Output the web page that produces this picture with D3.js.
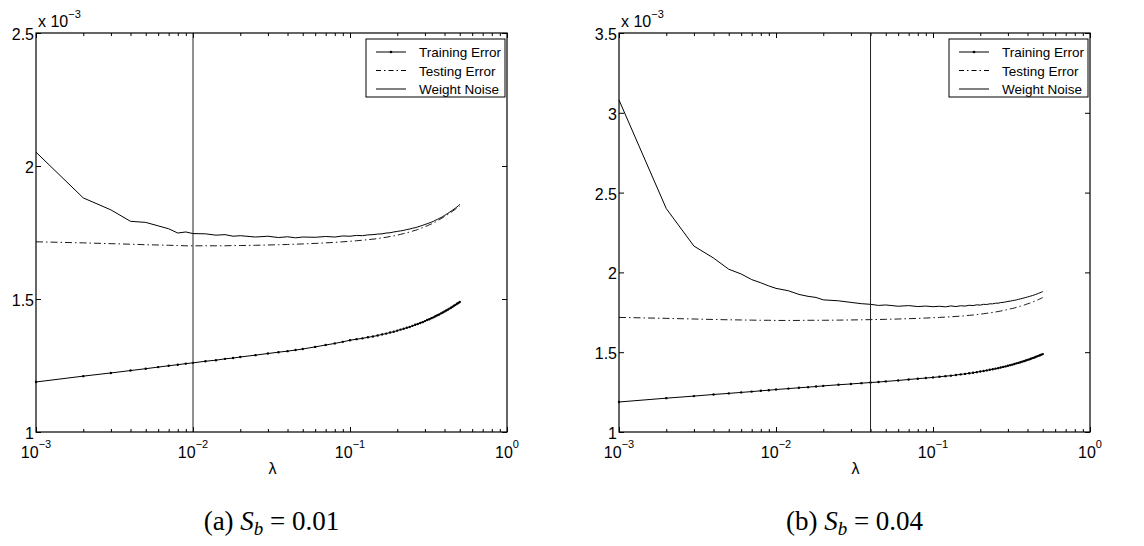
<!DOCTYPE html>
<meta charset="utf-8">
<head>
<style>
  body { margin: 0; background: #fff; }
  text { font-family: "Liberation Sans", Arial, sans-serif; fill: #000; }
  .cap { font-family: "Liberation Serif", "Times New Roman", serif; }
</style>
</head>
<script src="https://d3js.org/d3.v7.min.js"></script>
<body>
<div id="my_dataviz"></div>
</body>
<script>

// lambda values (x)
var lambdas = [0.001,0.002,0.003,0.004,0.005,0.006,0.007,0.008,0.009,0.010,
  0.012,0.014,0.016,0.018,0.020,
  0.025,0.030,0.035,0.040,0.045,0.050,
  0.06,0.07,0.08,0.09,0.10,
  0.11,0.12,0.13,0.14,0.15,0.16,0.17,0.18,0.19,0.20,
  0.21,0.22,0.23,0.24,0.25,0.26,0.27,0.28,0.29,0.30,
  0.31,0.32,0.33,0.34,0.35,0.36,0.37,0.38,0.39,0.40,
  0.41,0.42,0.43,0.44,0.45,0.46,0.47,0.48,0.49,0.50];

// panel (a), S_b = 0.01  (values x 10^-3)
var trainA = [1.188,1.210,1.222,1.231,1.238,1.244,1.249,1.253,1.257,1.260,
  1.266,1.270,1.275,1.278,1.282,
  1.289,1.295,1.300,1.304,1.308,1.312,
  1.320,1.327,1.333,1.339,1.345,
  1.349,1.352,1.356,1.359,1.363,1.367,1.370,1.374,1.377,1.381,
  1.385,1.388,1.392,1.395,1.399,1.403,1.406,1.410,1.413,1.417,
  1.421,1.424,1.428,1.431,1.435,1.439,1.442,1.446,1.449,1.453,
  1.457,1.460,1.464,1.467,1.471,1.475,1.478,1.482,1.485,1.489];
var testA = [1.715,1.711,1.708,1.706,1.704,1.703,1.702,1.701,1.700,1.700,
  1.700,1.700,1.700,1.701,1.701,
  1.702,1.703,1.704,1.705,1.706,1.707,
  1.709,1.711,1.713,1.715,1.717,
  1.719,1.721,1.723,1.725,1.727,1.730,1.732,1.735,1.737,1.740,
  1.743,1.746,1.749,1.752,1.755,1.758,1.761,1.765,1.768,1.772,
  1.775,1.779,1.782,1.786,1.790,1.794,1.798,1.802,1.806,1.810,
  1.814,1.818,1.822,1.826,1.830,1.834,1.838,1.842,1.846,1.850];
var noiseA = [2.052,1.880,1.835,1.792,1.788,1.775,1.764,1.748,1.752,1.746,
  1.745,1.740,1.742,1.736,1.738,
  1.733,1.736,1.731,1.734,1.730,1.733,
  1.732,1.735,1.733,1.737,1.736,
  1.739,1.738,1.741,1.742,1.744,1.745,1.748,1.749,1.752,1.754,
  1.756,1.758,1.761,1.763,1.766,1.768,1.771,1.774,1.777,1.780,
  1.783,1.786,1.789,1.792,1.796,1.799,1.803,1.806,1.810,1.814,
  1.818,1.822,1.826,1.830,1.834,1.838,1.842,1.846,1.851,1.856];

// panel (b), S_b = 0.04
var trainB = [1.188,1.212,1.225,1.235,1.242,1.248,1.253,1.258,1.262,1.266,
  1.272,1.277,1.281,1.285,1.289,
  1.296,1.301,1.306,1.310,1.313,1.317,
  1.323,1.329,1.334,1.338,1.342,
  1.346,1.350,1.353,1.357,1.361,1.364,1.368,1.371,1.375,1.379,
  1.382,1.386,1.390,1.393,1.397,1.400,1.404,1.408,1.411,1.415,
  1.419,1.422,1.426,1.430,1.433,1.437,1.441,1.444,1.448,1.452,
  1.455,1.459,1.463,1.466,1.470,1.474,1.477,1.481,1.485,1.488];
var testB = [1.718,1.712,1.708,1.705,1.703,1.702,1.701,1.700,1.700,1.699,
  1.699,1.699,1.700,1.700,1.700,
  1.701,1.702,1.703,1.704,1.705,1.706,
  1.708,1.710,1.712,1.714,1.716,
  1.718,1.720,1.722,1.724,1.726,1.728,1.731,1.733,1.736,1.738,
  1.741,1.744,1.746,1.749,1.752,1.755,1.758,1.761,1.764,1.768,
  1.771,1.774,1.777,1.781,1.784,1.788,1.791,1.795,1.799,1.803,
  1.806,1.810,1.814,1.818,1.822,1.826,1.830,1.834,1.838,1.842];
var noiseB = [3.080,2.400,2.165,2.090,2.020,1.990,1.955,1.935,1.915,1.900,
  1.885,1.862,1.850,1.843,1.828,
  1.822,1.812,1.804,1.800,1.793,1.796,
  1.788,1.792,1.786,1.789,1.785,
  1.788,1.784,1.790,1.786,1.791,1.789,1.794,1.792,1.797,1.795,
  1.800,1.799,1.803,1.803,1.807,1.807,1.811,1.812,1.815,1.818,
  1.820,1.823,1.825,1.828,1.831,1.834,1.837,1.840,1.843,1.846,
  1.849,1.852,1.855,1.858,1.862,1.865,1.869,1.872,1.876,1.880];

var yTicksA = [1, 1.5, 2, 2.5];
var yTicksB = [1, 1.5, 2, 2.5, 3, 3.5];
var xTickExps = [-3, -2, -1, 0];
var legendLabels = ["Training Error", "Testing Error", "Weight Noise"];
var vlineA = 0.01, vlineB = 0.04;
var captionA = ["(a)", "0.01"], captionB = ["(b)", "0.04"];

var svg = d3.select("#my_dataviz")
  .append("svg")
    .attr("width", 1144)
    .attr("height", 546);

var plotTop = 33, plotBottom = 432;

function drawPanel(p) {
  var x = d3.scaleLog().domain([1e-3, 1]).range([p.x0, p.x1]);
  var y = d3.scaleLinear().domain([1, p.yTicks[p.yTicks.length - 1]]).range([plotBottom, plotTop]);
  var g = svg.append("g");

  var majors = xTickExps.map(function(e) { return Math.pow(10, e); });
  var minors = x.ticks().filter(function(t) {
    return majors.every(function(m) { return Math.abs(t / m - 1) > 1e-6; });
  });

  // ticks pointing inward on all four sides
  function addAxis(axis, tr) {
    var a = g.append("g").attr("transform", tr).call(axis);
    a.select(".domain").remove();
    a.selectAll("line").attr("stroke", "#000");
    a.selectAll("text").remove();
  }
  addAxis(d3.axisBottom(x).tickValues(minors).tickSize(-3), "translate(0," + plotBottom + ")");
  addAxis(d3.axisBottom(x).tickValues(majors).tickSize(-5), "translate(0," + plotBottom + ")");
  addAxis(d3.axisTop(x).tickValues(minors).tickSize(-3), "translate(0," + plotTop + ")");
  addAxis(d3.axisTop(x).tickValues(majors).tickSize(-5), "translate(0," + plotTop + ")");
  addAxis(d3.axisLeft(y).tickValues(p.yTicks).tickSize(-5), "translate(" + p.x0 + ",0)");
  addAxis(d3.axisRight(y).tickValues(p.yTicks).tickSize(-5), "translate(" + p.x1 + ",0)");

  // y tick labels
  g.selectAll(".ylab").data(p.yTicks).enter().append("text")
    .attr("x", p.x0 - 2)
    .attr("y", function(d) { return y(d) + 7; })
    .attr("text-anchor", "end")
    .style("font-size", "16px")
    .text(function(d) { return d; });

  // x tick labels 10^n
  var xl = g.selectAll(".xlab").data(xTickExps).enter().append("text")
    .attr("x", function(d) { return x(Math.pow(10, d)); })
    .attr("y", plotBottom + 26)
    .attr("text-anchor", "middle")
    .style("font-size", "16px");
  xl.append("tspan").text("10");
  xl.append("tspan").attr("dy", -10).style("font-size", "11px")
    .text(function(d) { return d === 0 ? "0" : "\u2212" + Math.abs(d); });

  // exponent label
  var ex = g.append("text").attr("x", p.x0 + 2).attr("y", plotTop - 6).style("font-size", "16px");
  ex.append("tspan").text("x 10");
  ex.append("tspan").attr("dy", -9).style("font-size", "11px").text("\u22123");

  // axis label
  g.append("text").attr("x", (p.x0 + p.x1) / 2 + 1).attr("y", plotBottom + 42)
    .attr("text-anchor", "middle").style("font-size", "16px").text("\u03bb");

  var line = d3.line()
    .x(function(d) { return x(d[0]); })
    .y(function(d) { return y(d[1]); });
  function pts(s) { return lambdas.map(function(l, i) { return [l, s[i]]; }); }

  g.append("path").datum(pts(p.test)).attr("d", line)
    .attr("fill", "none").attr("stroke", "#000").attr("stroke-width", 0.9)
    .attr("stroke-dasharray", "7,3,1.5,3");
  g.append("path").datum(pts(p.noise)).attr("d", line)
    .attr("fill", "none").attr("stroke", "#000").attr("stroke-width", 1);
  g.append("path").datum(pts(p.train)).attr("d", line)
    .attr("fill", "none").attr("stroke", "#000").attr("stroke-width", 1);
  g.selectAll(".dot").data(pts(p.train)).enter().append("circle")
    .attr("cx", function(d) { return x(d[0]); })
    .attr("cy", function(d) { return y(d[1]); })
    .attr("r", 1.2).attr("fill", "#000");

  // vertical marker
  g.append("line")
    .attr("x1", x(p.vline)).attr("x2", x(p.vline))
    .attr("y1", plotTop).attr("y2", plotBottom)
    .attr("stroke", "#222").attr("stroke-width", 1);

  // frame
  g.append("rect").attr("x", p.x0).attr("y", plotTop)
    .attr("width", p.x1 - p.x0).attr("height", plotBottom - plotTop)
    .attr("fill", "none").attr("stroke", "#000").attr("stroke-width", 1.2);

  // legend
  var lx = p.x1 - 141, ly = 39;
  var lg = g.append("g").attr("transform", "translate(" + lx + "," + ly + ")");
  lg.append("rect").attr("width", 139).attr("height", 58)
    .attr("fill", "#fff").attr("stroke", "#000").attr("stroke-width", 1);
  var dashes = [null, "5,3,1.5,3", null];
  legendLabels.forEach(function(lab, i) {
    var yy = 13 + i * 18.5;
    lg.append("line").attr("x1", 10).attr("x2", 40).attr("y1", yy).attr("y2", yy)
      .attr("stroke", "#000").attr("stroke-width", 1)
      .attr("stroke-dasharray", dashes[i]);
    if (i === 0) lg.append("circle").attr("cx", 25).attr("cy", yy).attr("r", 1.3).attr("fill", "#000");
    lg.append("text").attr("x", 53).attr("y", yy + 5).style("font-size", "13.5px").text(lab);
  });

  // caption
  var cap = svg.append("text").attr("class", "cap")
    .attr("x", (p.x0 + p.x1) / 2).attr("y", 530)
    .attr("text-anchor", "middle").style("font-size", "27px");
  cap.append("tspan").text(p.caption[0] + " ");
  cap.append("tspan").style("font-style", "italic").text("S");
  cap.append("tspan").attr("dy", 5).style("font-style", "italic").style("font-size", "19px").text("b");
  cap.append("tspan").attr("dy", -5).text(" = " + p.caption[1]);
}

drawPanel({x0: 36, x1: 507, yTicks: yTicksA, train: trainA, test: testA, noise: noiseA, vline: vlineA, caption: captionA});
drawPanel({x0: 619, x1: 1090, yTicks: yTicksB, train: trainB, test: testB, noise: noiseB, vline: vlineB, caption: captionB});

</script>
